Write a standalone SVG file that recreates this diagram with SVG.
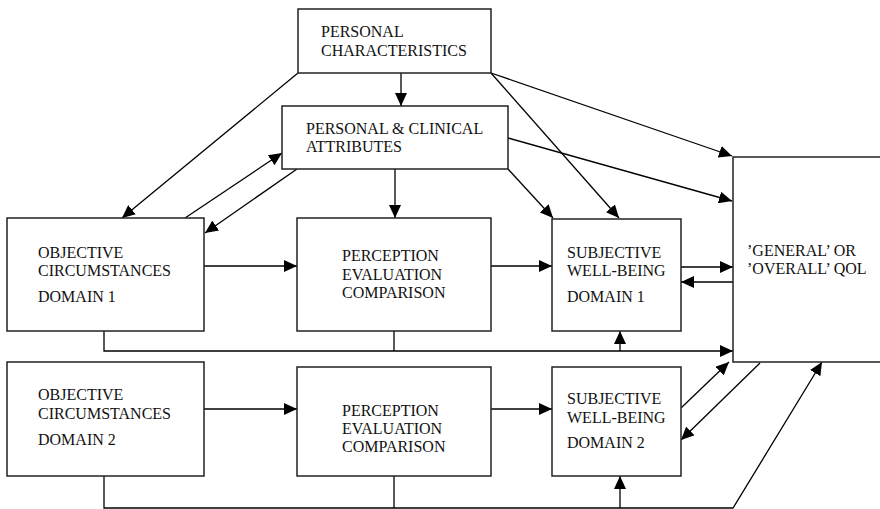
<svg xmlns="http://www.w3.org/2000/svg" width="880" height="509" viewBox="0 0 880 509">
<defs>
<marker id="ah" markerUnits="userSpaceOnUse" markerWidth="14" markerHeight="12" refX="13" refY="6" orient="auto">
<path d="M0,0 L13,6 L0,12 z" fill="#000"/>
</marker>
<style>
.box{fill:#fff;stroke:#222;stroke-width:1.5}
.t{font-family:"Liberation Serif","Times New Roman",serif;font-size:16px;fill:#111}
.c{fill:none;stroke:#000;stroke-width:1.3}
.a{marker-end:url(#ah)}
</style>
</defs>
<rect width="880" height="509" fill="#fff"/>
<g id="connectors">
<line class="c a" x1="401" y1="73" x2="401" y2="106"/>
<line class="c a" x1="298" y1="73" x2="122" y2="218"/>
<line class="c a" x1="185" y1="218" x2="282" y2="153"/>
<line class="c a" x1="297" y1="169" x2="205" y2="233"/>
<line class="c a" x1="395" y1="169" x2="395" y2="218"/>
<line class="c a" x1="508" y1="169" x2="553" y2="218"/>
<line class="c a" x1="491" y1="73" x2="619" y2="218"/>
<line class="c a" x1="491" y1="73" x2="732" y2="156"/>
<line class="c a" x1="508" y1="138" x2="732" y2="201"/>
<line class="c a" x1="204" y1="266" x2="297" y2="266"/>
<line class="c a" x1="491" y1="266" x2="552" y2="266"/>
<line class="c a" x1="681" y1="267" x2="733" y2="267"/>
<line class="c a" x1="733" y1="282" x2="681" y2="282"/>
<polyline class="c a" points="104,331 104,351 733,351"/>
<line class="c" x1="394" y1="331" x2="394" y2="351"/>
<line class="c a" x1="620" y1="351" x2="620" y2="331"/>
<line class="c a" x1="204" y1="409" x2="297" y2="409"/>
<line class="c a" x1="491" y1="409" x2="552" y2="409"/>
<line class="c a" x1="681" y1="408" x2="729" y2="362"/>
<line class="c a" x1="760" y1="363" x2="681" y2="440"/>
<polyline class="c a" points="104,476 104,508 733,508 822,362"/>
<line class="c" x1="394" y1="476" x2="394" y2="508"/>
<line class="c a" x1="620" y1="508" x2="620" y2="476"/>
</g>
<g id="personal-characteristics">
<rect class="box" x="298" y="9" width="193" height="64"/>
<text class="t" x="321" y="37">PERSONAL</text>
<text class="t" x="321" y="56">CHARACTERISTICS</text>
</g>
<g id="personal-clinical">
<rect class="box" x="282" y="106" width="226" height="63"/>
<text class="t" x="306" y="134">PERSONAL &amp; CLINICAL</text>
<text class="t" x="306" y="152">ATTRIBUTES</text>
</g>
<g id="objective-1">
<rect class="box" x="7" y="218" width="197" height="113"/>
<text class="t" x="38" y="258">OBJECTIVE</text>
<text class="t" x="38" y="276">CIRCUMSTANCES</text>
<text class="t" x="38" y="302">DOMAIN 1</text>
</g>
<g id="perception-1">
<rect class="box" x="297" y="218" width="194" height="113"/>
<text class="t" x="342" y="261">PERCEPTION</text>
<text class="t" x="342" y="280">EVALUATION</text>
<text class="t" x="342" y="298">COMPARISON</text>
</g>
<g id="subjective-1">
<rect class="box" x="552" y="219" width="129" height="112"/>
<text class="t" x="567" y="258">SUBJECTIVE</text>
<text class="t" x="567" y="276">WELL-BEING</text>
<text class="t" x="567" y="302">DOMAIN 1</text>
</g>
<g id="qol">
<rect class="box" x="733" y="157" width="160" height="205"/>
<text class="t" x="747" y="256">’GENERAL’ OR</text>
<text class="t" x="747" y="274">’OVERALL’ QOL</text>
</g>
<g id="objective-2">
<rect class="box" x="7" y="362" width="197" height="114"/>
<text class="t" x="38" y="400">OBJECTIVE</text>
<text class="t" x="38" y="419">CIRCUMSTANCES</text>
<text class="t" x="38" y="445">DOMAIN 2</text>
</g>
<g id="perception-2">
<rect class="box" x="297" y="367" width="194" height="109"/>
<text class="t" x="342" y="416">PERCEPTION</text>
<text class="t" x="342" y="434">EVALUATION</text>
<text class="t" x="342" y="452">COMPARISON</text>
</g>
<g id="subjective-2">
<rect class="box" x="552" y="367" width="129" height="109"/>
<text class="t" x="567" y="404">SUBJECTIVE</text>
<text class="t" x="567" y="423">WELL-BEING</text>
<text class="t" x="567" y="448">DOMAIN 2</text>
</g>
</svg>
